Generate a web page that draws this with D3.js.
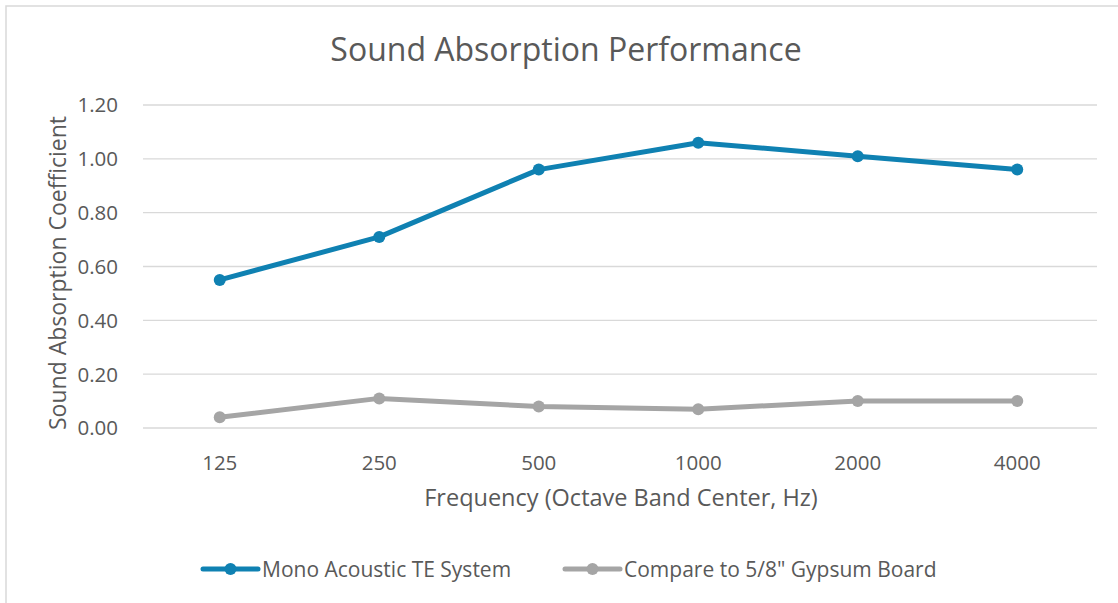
<!DOCTYPE html>
<html>
<head>
<meta charset="utf-8">
<script src="https://cdn.jsdelivr.net/npm/d3@7"></script>
<style>
  body { margin: 0; background: #fff; }
  text { font-family: "Open Sans", Lato, sans-serif; fill: #595959; }
</style>
</head>
<body>
<div id="chart"></div>
<script>
var W = 1118, H = 603;
var margin = {t:105, r:21, b:175, l:140};

var frequencies = ["125", "250", "500", "1000", "2000", "4000"];
var monoValues = [0.55, 0.71, 0.96, 1.06, 1.01, 0.96];
var gypsumValues = [0.04, 0.11, 0.08, 0.07, 0.10, 0.10];
var yTicks = [0, 0.2, 0.4, 0.6, 0.8, 1.0, 1.2];
var seriesNames = ["Mono Acoustic TE System", "Compare to 5/8\" Gypsum Board"];
var seriesColors = ["#0f81b2", "#a5a5a5"];

var svg = d3.select("#chart").append("svg")
    .attr("width", W)
    .attr("height", H);

// chart border
svg.append("rect")
    .attr("x", 6).attr("y", 6)
    .attr("width", W + 20).attr("height", H + 20)
    .attr("fill", "none")
    .attr("stroke", "#d9d9d9")
    .attr("stroke-width", 1.5);

var x = d3.scalePoint()
    .domain(frequencies)
    .range([margin.l, W - margin.r])
    .padding(0.5);

var y = d3.scaleLinear()
    .domain([0, 1.2])
    .range([H - margin.b, margin.t]);

// gridlines
svg.append("g").selectAll("line")
    .data(yTicks)
    .enter().append("line")
    .attr("x1", margin.l + 3)
    .attr("x2", W - margin.r)
    .attr("y1", function(d){ return y(d); })
    .attr("y2", function(d){ return y(d); })
    .attr("stroke", "#d9d9d9")
    .attr("stroke-width", 1.3);

// y tick labels
svg.append("g").selectAll("text")
    .data(yTicks)
    .enter().append("text")
    .attr("x", 118)
    .attr("y", function(d){ return y(d); })
    .attr("dy", "0.36em")
    .attr("text-anchor", "end")
    .style("font-size", "20.5px")
    .text(function(d){ return d3.format(".2f")(d); });

// x tick labels
svg.append("g").selectAll("text")
    .data(frequencies)
    .enter().append("text")
    .attr("x", function(d){ return x(d); })
    .attr("y", 470)
    .attr("text-anchor", "middle")
    .style("font-size", "20.5px")
    .text(function(d){ return d; });

// title
svg.append("text")
    .attr("x", 566)
    .attr("y", 61)
    .attr("text-anchor", "middle")
    .style("font-size", "32px")
    .text("Sound Absorption Performance");

// axis titles
svg.append("text")
    .attr("x", 621)
    .attr("y", 506)
    .attr("text-anchor", "middle")
    .style("font-size", "23.5px")
    .text("Frequency (Octave Band Center, Hz)");

svg.append("text")
    .attr("transform", "translate(66,273) rotate(-90)")
    .attr("text-anchor", "middle")
    .style("font-size", "23px")
    .text("Sound Absorption Coefficient");

var line = d3.line()
    .x(function(d, i){ return x(frequencies[i]); })
    .y(function(d){ return y(d); });

[monoValues, gypsumValues].forEach(function(vals, k){
    svg.append("path")
        .datum(vals)
        .attr("d", line)
        .attr("fill", "none")
        .attr("stroke", seriesColors[k])
        .attr("stroke-width", 5)
        .attr("stroke-linejoin", "round");

    svg.append("g").selectAll("circle")
        .data(vals)
        .enter().append("circle")
        .attr("cx", function(d, i){ return x(frequencies[i]); })
        .attr("cy", function(d){ return y(d); })
        .attr("r", 6)
        .attr("fill", seriesColors[k]);
});

// legend
var legendX = [203, 565];
var lg = svg.append("g").selectAll("g")
    .data(seriesNames)
    .enter().append("g")
    .attr("transform", function(d, i){ return "translate(" + legendX[i] + ",569)"; });

lg.append("line")
    .attr("x1", 0).attr("x2", 55)
    .attr("stroke", function(d, i){ return seriesColors[i]; })
    .attr("stroke-width", 5)
    .attr("stroke-linecap", "round");

lg.append("circle")
    .attr("cx", 27.5)
    .attr("r", 6)
    .attr("fill", function(d, i){ return seriesColors[i]; });

lg.append("text")
    .attr("x", 59)
    .attr("dy", "0.36em")
    .style("font-size", "21px")
    .text(function(d){ return d; });
</script>
</body>
</html>
